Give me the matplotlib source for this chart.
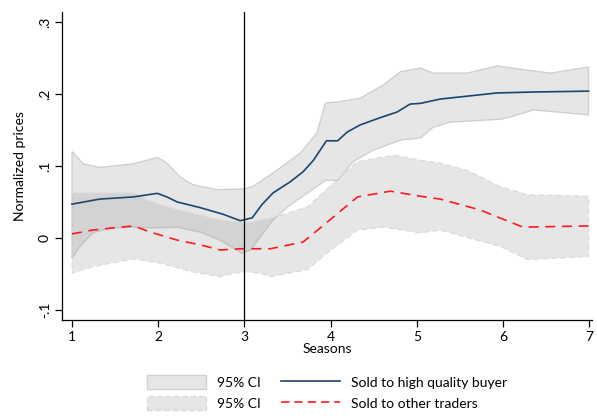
import numpy as np
import matplotlib.pyplot as plt
from matplotlib.patches import Patch
from matplotlib.lines import Line2D

plt.rcParams['font.family'] = ['Lato', 'DejaVu Sans']

# high quality buyer: point estimate
hq_x = [1.00, 1.32, 1.71, 1.99, 2.10, 2.22, 2.49, 2.75, 2.95, 3.09, 3.20, 3.33, 3.53,
        3.68, 3.80, 3.95, 4.08, 4.19, 4.34, 4.57, 4.77, 4.92, 5.04, 5.27, 5.58,
        5.93, 6.35, 6.99]
hq_y = [0.047, 0.054, 0.057, 0.062, 0.057, 0.050, 0.042, 0.033, 0.024, 0.028, 0.046,
        0.0625, 0.078, 0.092, 0.108, 0.135, 0.135, 0.147, 0.157, 0.167, 0.175,
        0.186, 0.187, 0.193, 0.197, 0.2015, 0.2028, 0.204]

# high quality buyer: CI bounds
hq_up_x = [1.00, 1.13, 1.32, 1.71, 1.99, 2.10, 2.25, 2.40, 2.68, 2.98, 3.09, 3.33,
           3.65, 3.84, 3.94, 4.08, 4.34, 4.61, 4.81, 5.04, 5.19, 5.58, 5.93,
           6.16, 6.55, 6.99]
hq_up_y = [0.120, 0.103, 0.098, 0.103, 0.112, 0.104, 0.085, 0.074, 0.067, 0.068,
           0.071, 0.090, 0.118, 0.146, 0.1875, 0.189, 0.194, 0.2125, 0.231, 0.236,
           0.229, 0.229, 0.239, 0.235, 0.229, 0.2375]
hq_lo_x = [1.00, 1.09, 1.24, 1.44, 1.71, 1.94, 2.22, 2.49, 2.72, 2.87, 2.97, 3.07,
           3.18, 3.33, 3.53, 3.73, 3.94, 4.08, 4.26, 4.49, 4.81, 5.04, 5.19,
           5.39, 5.97, 6.08, 6.35, 6.99]
hq_lo_y = [-0.028, -0.012, 0.007, 0.014, 0.015, 0.014, 0.015, 0.008, -0.003, -0.014,
           -0.021, -0.017, 0.001, 0.025, 0.046, 0.0625, 0.080, 0.080, 0.106, 0.122,
           0.136, 0.139, 0.154, 0.161, 0.165, 0.168, 0.178, 0.171]

# other traders: point estimate
ot_x = [1.00, 1.24, 1.48, 1.71, 1.94, 2.22, 2.49, 2.72, 2.95, 3.30, 3.68, 3.96,
        4.31, 4.69, 5.04, 5.27, 5.73, 6.23, 6.99]
ot_y = [0.0056, 0.011, 0.014, 0.0167, 0.007, -0.003, -0.0097, -0.0167, -0.015,
        -0.015, -0.0056, 0.022, 0.057, 0.065, 0.058, 0.054, 0.039, 0.015, 0.0167]

# other traders: CI bounds
ot_up_x = [1.00, 1.71, 1.87, 2.02, 2.33, 2.72, 3.03, 3.33, 3.73, 4.03, 4.31, 4.73,
           5.04, 5.27, 5.58, 5.97, 6.28, 6.99]
ot_up_y = [0.0625, 0.0625, 0.053, 0.046, 0.036, 0.025, 0.021, 0.028, 0.043, 0.076,
           0.106, 0.115, 0.108, 0.104, 0.094, 0.071, 0.060, 0.058]
ot_lo_x = [1.00, 1.24, 1.71, 2.02, 2.40, 2.72, 2.87, 3.03, 3.18, 3.30, 3.73, 3.96,
           4.31, 4.61, 5.04, 5.27, 5.97, 6.28, 6.99]
ot_lo_y = [-0.049, -0.040, -0.029, -0.035, -0.047, -0.054, -0.049, -0.047, -0.049,
           -0.054, -0.044, -0.021, 0.011, 0.015, 0.007, 0.011, -0.012, -0.030, -0.026]

fill_c = (151/255, 151/255, 151/255, 0.24)
edge_solid = '#d0d0d0'
edge_dash = '#d9d9d9'

fig = plt.figure(figsize=(5.97, 4.19), dpi=100)
ax = fig.add_axes([0.1039, 0.2363, 0.8877, 0.7351])

ax.fill(np.r_[hq_up_x, hq_lo_x[::-1]], np.r_[hq_up_y, hq_lo_y[::-1]],
        facecolor=fill_c, edgecolor=edge_solid, linewidth=1.0, zorder=1)
ax.fill(np.r_[ot_up_x, ot_lo_x[::-1]], np.r_[ot_up_y, ot_lo_y[::-1]],
        facecolor=fill_c, edgecolor=edge_dash, linewidth=0.8, linestyle=(0, (5, 3)),
        zorder=1)

ax.plot(hq_x, hq_y, color='#1a476f', linewidth=1.2, zorder=3)
ax.plot(ot_x, ot_y, color='#ff1a1a', linewidth=1.2, linestyle=(0, (6, 4)), zorder=3)
ax.axvline(3, color='black', linewidth=0.9, zorder=4)

ax.set_xlim(0.884, 7.03)
ax.set_ylim(-0.114, 0.314)
ax.set_xticks([1, 2, 3, 4, 5, 6, 7])
ax.set_yticks([-0.1, 0, 0.1, 0.2, 0.3])
ax.set_yticklabels(['-.1', '0', '.1', '.2', '.3'], rotation=90, va='center')
ax.tick_params(labelsize=10, length=5, width=0.9, pad=3)
for s in ['top', 'right']:
    ax.spines[s].set_visible(False)
for s in ['left', 'bottom']:
    ax.spines[s].set_linewidth(0.9)

ax.set_xlabel('Seasons', fontsize=10, labelpad=0)
ax.set_ylabel('Normalized prices', fontsize=10, labelpad=9)

handles = [
    Patch(facecolor=fill_c, edgecolor=edge_solid, linewidth=1.0),
    Patch(facecolor=fill_c, edgecolor=edge_dash, linewidth=1.0, linestyle=(0, (4, 2))),
    Line2D([], [], color='#1a476f', linewidth=1.2),
    Line2D([], [], color='#ff1a1a', linewidth=1.2, linestyle=(0, (5, 3))),
]
labels = ['95% CI', '95% CI', 'Sold to high quality buyer', 'Sold to other traders']
fig.legend(handles, labels, ncol=2, loc='center', bbox_to_anchor=(0.548, 0.063),
           frameon=False, fontsize=10, handlelength=4.2, handleheight=1.2,
           columnspacing=1.5, labelspacing=0.45)

fig.savefig('out.png', dpi=100)
